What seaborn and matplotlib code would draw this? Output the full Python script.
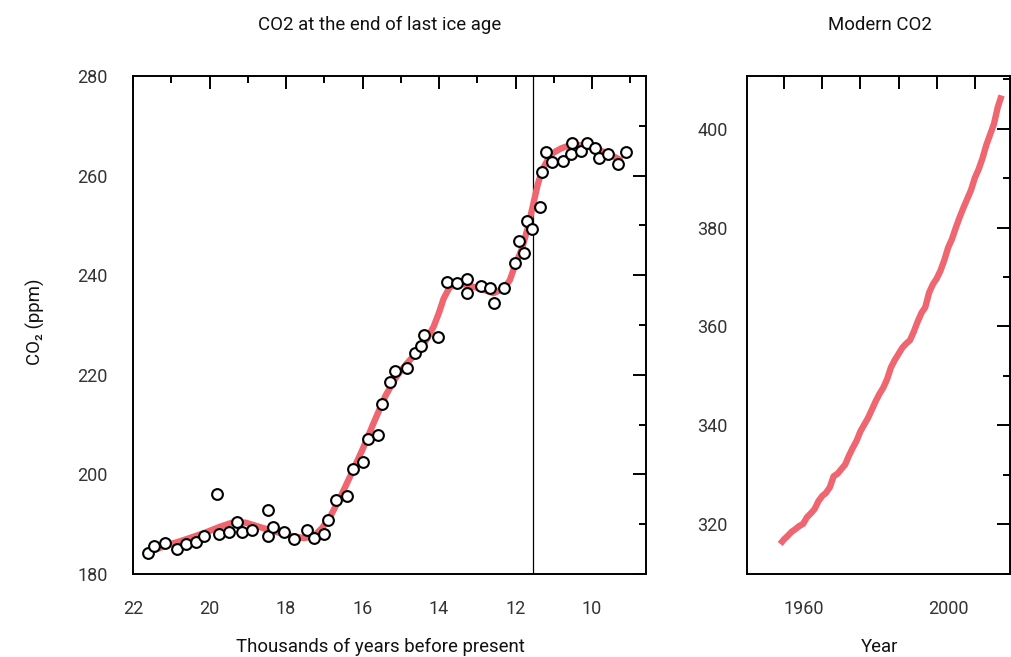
import matplotlib
matplotlib.use("Agg")
import numpy as np
import pandas as pd
import seaborn as sns
import matplotlib.pyplot as plt
from matplotlib.ticker import MultipleLocator, FixedLocator, NullFormatter

# Ice core samples: age (thousands of years before present) and CO2 (ppm)
ice_age = [21.62, 21.46, 21.16, 20.85, 20.61, 20.35, 20.14, 19.80, 19.75, 19.49,
           19.28, 19.14, 18.88, 18.48, 18.48, 18.33, 18.04, 17.78, 17.45, 17.28,
           17.02, 16.90, 16.69, 16.41, 16.24, 16.00, 15.86, 15.60, 15.49, 15.29,
           15.14, 14.84, 14.62, 14.47, 14.39, 14.04, 13.78, 13.53, 13.27, 13.27,
           12.90, 12.66, 12.57, 12.31, 12.01, 11.90, 11.77, 11.69, 11.56, 11.35,
           11.31, 11.20, 11.05, 10.75, 10.54, 10.53, 10.28, 10.13, 9.92, 9.83,
           9.58, 9.32, 9.11]
ice_co2 = [184.2, 185.7, 186.2, 185.0, 186.0, 186.4, 187.7, 196.0, 188.0, 188.4,
           190.5, 188.5, 188.9, 192.9, 187.7, 189.4, 188.5, 187.0, 188.9, 187.2,
           188.1, 190.8, 194.8, 195.6, 201.1, 202.4, 207.1, 207.9, 214.2, 218.5,
           220.8, 221.3, 224.3, 225.8, 228.0, 227.5, 238.6, 238.4, 239.2, 236.4,
           237.9, 237.4, 234.4, 237.5, 242.5, 246.9, 244.5, 250.9, 249.3, 253.6,
           260.8, 264.7, 262.7, 263.0, 264.3, 266.6, 265.0, 266.6, 265.5, 263.5,
           264.3, 262.3, 264.7]

# Smoothed trend (red curve)
trend_age = [21.45, 21.1, 20.76, 20.45, 20.15, 19.72, 19.37, 19.05, 18.76, 18.33,
             17.89, 17.54, 17.28, 17.06, 16.84, 16.58, 16.3, 16.0, 15.7, 15.4,
             15.1, 14.84, 14.6, 14.45, 14.3, 14.14, 14.0, 13.88, 13.75, 13.62,
             13.45, 13.27, 12.92, 12.58, 12.31, 12.15, 12.05, 11.83, 11.68, 11.53,
             11.42, 11.31, 11.15, 11.01, 10.8, 10.61, 10.31, 9.92, 9.53, 9.22]
trend_co2 = [184.8, 185.8, 186.6, 187.4, 188.2, 189.5, 190.4, 190.3, 189.6, 188.6,
             187.7, 187.2, 187.6, 189.2, 191.6, 195.4, 200.0, 205.0, 210.5, 215.8,
             219.8, 222.3, 224.3, 225.7, 227.4, 229.7, 232.5, 235.3, 237.2, 238.3,
             238.4, 238.0, 237.3, 236.4, 237.3, 239.0, 241.2, 245.4, 249.5, 254.5,
             258.2, 261.0, 263.3, 264.6, 265.5, 266.0, 266.1, 265.5, 264.2, 263.0]

ice_age_end = 11.55  # vertical marker

# Modern CO2, annual means
years = list(range(1959, 2018))
modern_co2 = [315.97, 316.91, 317.64, 318.45, 318.99, 319.62, 320.04, 321.38, 322.16, 323.04,
              324.62, 325.68, 326.32, 327.46, 329.68, 330.19, 331.12, 332.03, 333.84, 335.41,
              336.84, 338.76, 340.12, 341.48, 343.15, 344.85, 346.35, 347.61, 349.31, 351.69,
              353.20, 354.45, 355.70, 356.54, 357.21, 358.96, 360.97, 362.74, 363.88, 366.84,
              368.54, 369.71, 371.32, 373.45, 375.98, 377.70, 379.98, 382.09, 384.02, 385.83,
              387.64, 390.10, 391.85, 394.06, 396.74, 398.87, 401.01, 404.41, 406.76]

ice_df = pd.DataFrame({"age": ice_age, "co2": ice_co2})
trend_df = pd.DataFrame({"age": trend_age, "co2": trend_co2})
modern_df = pd.DataFrame({"year": years, "co2": modern_co2})

sns.set_theme(style="white")
plt.rcParams["font.family"] = ["Roboto", "DejaVu Sans"]
plt.rcParams["axes.linewidth"] = 1.4
plt.rcParams["axes.edgecolor"] = "black"

red = "#ef6670"
txt = "#111111"
tick_txt = "#333333"

fig = plt.figure(figsize=(10.11, 6.57), dpi=100)
ax1 = fig.add_axes([133 / 1011, 83 / 657, 513 / 1011, 498 / 657])
ax2 = fig.add_axes([747 / 1011, 83 / 657, 263 / 1011, 498 / 657])

# --- left panel: end of last ice age ---
ax1.axvline(ice_age_end, color="black", lw=0.9, zorder=1)
sns.lineplot(data=trend_df, x="age", y="co2", sort=False, color=red, lw=4.6,
             solid_capstyle="butt", solid_joinstyle="round", ax=ax1, zorder=2)
sns.scatterplot(data=ice_df, x="age", y="co2", s=60, facecolor="white",
                edgecolor="black", linewidth=1.5, ax=ax1, zorder=3)
ax1.set_xlim(22, 8.59)
ax1.set_ylim(180, 280)
ax1.xaxis.set_major_locator(MultipleLocator(2))
ax1.xaxis.set_minor_locator(MultipleLocator(1))
ax1.yaxis.set_major_locator(MultipleLocator(20))
ax1.yaxis.set_minor_locator(MultipleLocator(10))
ax1.tick_params(which="both", direction="in", top=True, right=True,
                width=1.4, color="black", labelsize=13, labelcolor=tick_txt)
ax1.tick_params(which="major", length=9.5)
ax1.tick_params(which="minor", length=5)
ax1.tick_params(axis="x", pad=19)
ax1.tick_params(axis="y", pad=18)
ax1.set_xlabel("Thousands of years before present", fontsize=13.4, color=txt)
ax1.xaxis.label.set_va("center")
ax1.xaxis.set_label_coords(0.4815, -0.1466)
ax1.set_ylabel("CO\u2082 (ppm)", fontsize=13.4, color=txt)
ax1.yaxis.label.set_va("center")
ax1.yaxis.set_label_coords(-0.191, 0.506)

# --- right panel: modern CO2 ---
sns.lineplot(data=modern_df, x="year", y="co2", color=red, lw=4.6,
             solid_joinstyle="round", solid_capstyle="butt", ax=ax2)
ax2.set_xlim(1950.3, 2019.2)
ax2.set_ylim(309.9, 410.7)
ax2.xaxis.set_major_locator(FixedLocator([1965.2, 2003.1]))
ax2.xaxis.set_major_formatter(plt.FixedFormatter(["1960", "2000"]))
ax2.xaxis.set_minor_locator(MultipleLocator(10))
ax2.xaxis.set_minor_formatter(NullFormatter())
ax2.yaxis.set_major_locator(MultipleLocator(20))
ax2.yaxis.set_minor_locator(MultipleLocator(10))
ax2.tick_params(which="both", direction="in", top=True, right=True,
                width=1.4, color="black", labelsize=13, labelcolor=tick_txt)
ax2.tick_params(axis="y", which="major", length=9.5)
ax2.tick_params(axis="y", which="minor", length=5)
ax2.tick_params(axis="x", which="major", length=0)
ax2.tick_params(axis="x", which="minor", length=9.5)
ax2.tick_params(axis="x", pad=19)
ax2.tick_params(axis="y", pad=14)
ax2.set_xlabel("Year", fontsize=13.4, color=txt)
ax2.xaxis.label.set_va("center")
ax2.xaxis.set_label_coords(0.5057, -0.1466)
ax2.set_ylabel("")

fig.text(380 / 1011, 1 - 25 / 657, "CO2 at the end of last ice age",
         ha="center", va="center", fontsize=13.4, color=txt)
fig.text(880 / 1011, 1 - 25 / 657, "Modern CO2",
         ha="center", va="center", fontsize=13.4, color=txt)

fig.savefig("out.png", dpi=100, facecolor="white")
